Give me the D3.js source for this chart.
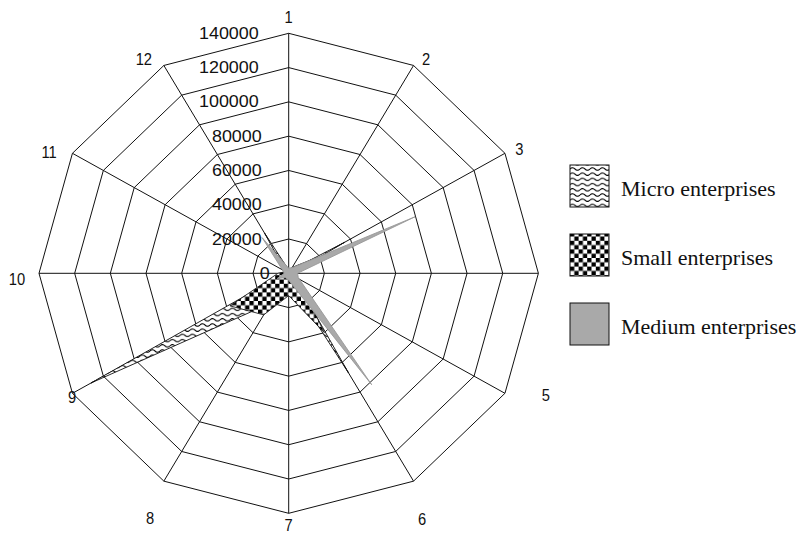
<!DOCTYPE html>
<html>
<head>
<meta charset="utf-8">
<script src="https://cdn.jsdelivr.net/npm/d3@7"></script>
<style>
  body { margin: 0; background: #fff; }
  svg { display: block; }
</style>
</head>
<body>
<svg id="chart" width="806" height="534"></svg>
<script>
// Radar categories (12 spokes, clockwise from the top)
const categories = ["1", "2", "3", "4", "5", "6", "7", "8", "9", "10", "11", "12"];
// Labels drawn at the spoke ends (spoke 4 carries no label)
const shownCategoryLabels = ["1", "2", "3", "5", "6", "7", "8", "9", "10", "11", "12"];
// Radial ticks
const tickValues = [0, 20000, 40000, 60000, 80000, 100000, 120000, 140000];
const tickLabels = ["0", "20000", "40000", "60000", "80000", "100000", "120000", "140000"];

// Series values per category
const microValues  = [2000, 2000, 36000, 2000, 3000, 67000, 4000, 20000, 128000, 2000, 2000, 27000];
const smallValues  = [2000, 4000, 19000, 4000, 6000, 40000, 13000, 28000, 38000, 6000, 2000, 12000];
const mediumValues = [3000, 4000, 66000, 4000, 5000, 75000, 4000, 3000, 6000, 2000, 3000, 24000];

const seriesNames = ["Micro enterprises", "Small enterprises", "Medium enterprises"];

// Layout: label nudges (dx, dy) from each spoke end, in pixels
const labelNudge = {
  "1": [0, -16], "2": [12.5, -6.5], "3": [14.5, -3.6], "5": [41, 2],
  "6": [8.5, 38.5], "7": [0, 12], "8": [-13.8, 37], "9": [-0.4, 4.5],
  "10": [-22, 5.7], "11": [-23.4, -1.3], "12": [-20, -6.5]
};

const svg = d3.select("#chart");
const cx = 288.7, cy = 273.3;   // centre of the web
const rx = 249.7, ry = 240;      // outer ring half-width / half-height

const rScale = d3.scaleLinear().domain([0, 140000]).range([0, 1]);
const aScale = d3.scaleLinear().domain([0, categories.length]).range([0, 2 * Math.PI]);

function pt(i, v, kx = 1) {
  const a = aScale(i), r = rScale(v);
  return [cx + kx * rx * r * Math.sin(a), cy - ry * r * Math.cos(a)];
}

// ---- fill patterns ----
const defs = svg.append("defs");

const wave = defs.append("pattern")
  .attr("id", "pat-wave").attr("patternUnits", "userSpaceOnUse")
  .attr("width", 10).attr("height", 5.2);
wave.append("rect").attr("width", 10).attr("height", 5.2).attr("fill", "#fff");
wave.append("path")
  .attr("d", "M0 2.6 Q2.5 0.2 5 2.6 T10 2.6")
  .attr("fill", "none").attr("stroke", "#000").attr("stroke-width", 1.1);

const cs = 4.3;
const checker = defs.append("pattern")
  .attr("id", "pat-check").attr("patternUnits", "userSpaceOnUse")
  .attr("width", 2 * cs).attr("height", 2 * cs);
checker.append("rect").attr("width", 2 * cs).attr("height", 2 * cs).attr("fill", "#fff");
checker.append("rect").attr("x", 0).attr("y", 0).attr("width", cs).attr("height", cs).attr("fill", "#000");
checker.append("rect").attr("x", cs).attr("y", cs).attr("width", cs).attr("height", cs).attr("fill", "#000");

// soft edge for the filled areas
const soft = defs.append("filter").attr("id", "soft")
  .attr("x", "-5%").attr("y", "-5%").attr("width", "110%").attr("height", "110%");
soft.append("feGaussianBlur").attr("stdDeviation", 0.55);

const fills = ["url(#pat-wave)", "url(#pat-check)", "#a9a9a9"];
const strokes = ["#111", "#222", "#999"];
// horizontal spread of each series layer
const layerKx = [1, 1, 1.24];

// ---- grid ----
const grid = svg.append("g").attr("stroke", "#111").attr("stroke-width", 1).attr("fill", "none");
const ringLine = d3.line().curve(d3.curveLinearClosed);

tickValues.slice(1).forEach(t => {
  grid.append("path").attr("d", ringLine(categories.map((c, i) => pt(i, t))));
});
categories.forEach((c, i) => {
  const [x, y] = pt(i, tickValues[tickValues.length - 1]);
  grid.append("line").attr("x1", cx).attr("y1", cy).attr("x2", x).attr("y2", y);
});

// ---- series areas ----
const seriesData = [microValues, smallValues, mediumValues];
const areaLine = d3.line().curve(d3.curveLinearClosed);
const areas = svg.append("g").attr("filter", "url(#soft)");
seriesData.forEach((vals, s) => {
  areas.append("path")
    .attr("d", areaLine(vals.map((v, i) => pt(i, v, layerKx[s]))))
    .attr("fill", fills[s])
    .attr("stroke", strokes[s])
    .attr("stroke-width", 0.9)
    .attr("stroke-linejoin", "miter");
});

// ---- radial tick labels ----
const tickG = svg.append("g")
  .attr("font-family", "'Liberation Sans', Arial, sans-serif")
  .attr("font-size", 16).attr("fill", "#111");
tickValues.forEach((t, k) => {
  const y = cy - ry * rScale(t);
  const len = tickLabels[k].length;
  const xEnd = len === 1 ? cx - 19 : (len > 5 ? cx - 30 : cx - 27);
  tickG.append("text")
    .attr("transform", `translate(${xEnd},${y}) scale(1.12,1)`)
    .attr("text-anchor", "end")
    .attr("dy", "0.35em")
    .text(tickLabels[k]);
});

// ---- category labels ----
const catG = svg.append("g")
  .attr("font-family", "'Liberation Sans', Arial, sans-serif")
  .attr("font-size", 16).attr("fill", "#111");
categories.forEach((c, i) => {
  if (!shownCategoryLabels.includes(c)) return;
  const [x, y] = pt(i, 140000);
  const [dx, dy] = labelNudge[c];
  catG.append("text")
    .attr("transform", `translate(${x + dx},${y + dy}) scale(0.92,1)`)
    .attr("text-anchor", "middle")
    .attr("dy", "0.35em")
    .text(c);
});

// ---- legend ----
const legend = svg.append("g").attr("transform", "translate(570,0)");
seriesNames.forEach((name, s) => {
  const yc = 186 + s * 69;
  legend.append("rect")
    .attr("x", 0).attr("y", yc - 21)
    .attr("width", 39).attr("height", 42)
    .attr("fill", fills[s]).attr("stroke", "#111").attr("stroke-width", 1);
  legend.append("text")
    .attr("x", 51).attr("y", yc + 10)
    .attr("font-family", "'Liberation Serif', 'Times New Roman', serif")
    .attr("font-size", 22).attr("fill", "#111")
    .text(name);
});
</script>
</body>
</html>
